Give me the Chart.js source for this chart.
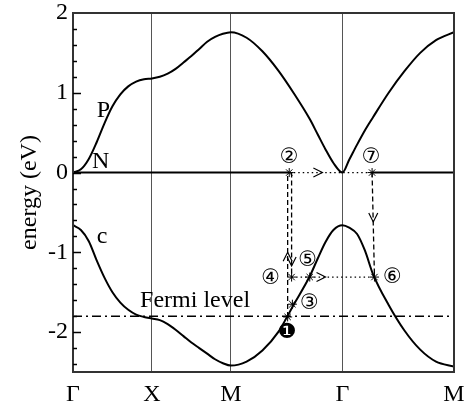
<!DOCTYPE html>
<html>
<head>
<meta charset="utf-8">
<script src="https://cdn.jsdelivr.net/npm/chart.js@4.4.1/dist/chart.umd.min.js"></script>
<style>
  html, body { margin: 0; padding: 0; background: #fff; }
  canvas { display: block; }
</style>
</head>
<body>
<canvas id="bands" width="473" height="409"></canvas>
<script>
// k path Γ-X-M-Γ-M, distance in units of Γ-X
const kTicks = [0, 1, 2, 3.414, 4.828];
const kLabels = ['Γ', 'X', 'M', 'Γ', 'M'];
const energyTicks = [-2, -1, 0, 1, 2];

// band energies (eV) read along kGrid
const kGrid = [0, 0.1, 0.2, 0.3, 0.4, 0.5, 0.6, 0.7, 0.8, 0.9, 1.0,
  1.1, 1.2, 1.3, 1.4, 1.5, 1.6, 1.7, 1.8, 1.9, 2.0,
  2.2, 2.4, 2.6, 2.8, 3.0, 3.1, 3.2, 3.3, 3.414,
  3.5, 3.6, 3.7, 3.8, 4.0, 4.2, 4.4, 4.6, 4.828];
const bandP = [0, 0.04, 0.17, 0.38, 0.62, 0.83, 0.98, 1.08, 1.14, 1.17, 1.18,
  1.2, 1.24, 1.3, 1.38, 1.46, 1.55, 1.64, 1.7, 1.74, 1.76,
  1.69, 1.52, 1.28, 0.99, 0.67, 0.48, 0.29, 0.12, 0,
  0.16, 0.35, 0.53, 0.69, 1.0, 1.27, 1.5, 1.66, 1.76];
const bandC = [-0.66, -0.72, -0.86, -1.1, -1.32, -1.5, -1.63, -1.72, -1.78, -1.81, -1.83,
  -1.85, -1.9, -1.97, -2.05, -2.13, -2.2, -2.27, -2.34, -2.39, -2.42,
  -2.37, -2.23, -2.0, -1.65, -1.3, -1.08, -0.87, -0.72, -0.66,
  -0.69, -0.77, -0.98, -1.27, -1.66, -1.98, -2.22, -2.37, -2.43];
const levelN = 0;
const fermiLevel = -1.8;

// numbered states of the scattering sequence
const stateNames = ['❶', '②', '③', '④', '⑤', '⑥', '⑦'];
const stateK = [2.72, 2.74, 2.78, 2.77, 3.0, 3.82, 3.79];
const stateE = [-1.81, 0, -1.65, -1.31, -1.31, -1.31, 0];

// transitions between states
const jumpFromK = [2.72, 2.77, 2.74, 2.77, 3.79];
const jumpFromE = [-1.81, 0, 0, -1.31, 0];
const jumpToK = [2.72, 2.77, 3.79, 3.82, 3.82];
const jumpToE = [0, -1.31, 0, -1.31, -1.31];
const jumpStyle = ['dash', 'dash', 'dot', 'dot', 'dash'];

// arrow heads on the transitions
const arrowK = [2.72, 2.77, 3.16, 3.2, 3.805];
const arrowE = [-1.0, -1.17, 0, -1.31, -0.62];
const arrowDir = ['up', 'down', 'right', 'right', 'down'];

// band names
const bandNames = ['P', 'N', 'c', 'Fermi level'];
const bandNameK = [0.30, 0.24, 0.30, 0.85];
const bandNameE = [0.70, 0.06, -0.88, -1.69];

const SERIF = "'Liberation Serif', 'Times New Roman', serif";
const CIRCLED = "'DejaVu Serif', 'DejaVu Sans', 'Noto Sans CJK JP', sans-serif";
// pixel offsets of the state numbers from their star
const stateLabelOffset = [[-1, 16], [0, -15], [17, -1], [-21, 1], [-2, -17], [18, 0], [-1, -15]];

Chart.defaults.font.family = SERIF;
Chart.defaults.color = '#000';

const pts = (ks, es) => ks.map((k, i) => ({ x: k, y: es[i] }));
const lastK = kTicks[kTicks.length - 1];

const solid = { borderColor: '#000', borderWidth: 2, pointRadius: 0, fill: false };

const datasets = [
  Object.assign({ data: pts(kGrid, bandP), cubicInterpolationMode: 'monotone' }, solid),
  Object.assign({ data: pts(kGrid, bandC), cubicInterpolationMode: 'monotone' }, solid),
  Object.assign({ data: pts([0, stateK[1]], [levelN, levelN]) }, solid),
  Object.assign({ data: pts([stateK[6], lastK], [levelN, levelN]) }, solid),
  { data: pts([0, lastK], [fermiLevel, fermiLevel]), borderColor: '#000', borderWidth: 1.5,
    borderDash: [9, 4, 2, 4], pointRadius: 0 }
];

jumpFromK.forEach((k, i) => {
  datasets.push({
    data: pts([k, jumpToK[i]], [jumpFromE[i], jumpToE[i]]),
    borderColor: '#000',
    borderWidth: 1.3,
    borderDash: jumpStyle[i] === 'dash' ? [5, 3] : [1.5, 3],
    pointRadius: 0
  });
});

datasets.push({
  data: pts(stateK, stateE),
  showLine: false,
  pointStyle: 'star',
  pointRadius: 4.5,
  borderColor: '#000',
  borderWidth: 1,
  backgroundColor: '#000'
});

const decor = {
  id: 'decor',
  afterDatasetsDraw(chart) {
    const { ctx, chartArea: a, scales: { x, y } } = chart;
    ctx.save();

    // frame
    ctx.strokeStyle = '#333';
    ctx.lineWidth = 2;
    ctx.strokeRect(a.left, a.top, a.right - a.left, a.bottom - a.top);

    // inward ticks on the energy axis
    ctx.strokeStyle = '#000';
    ctx.lineWidth = 1.5;
    for (let i = -12; i <= 9; i++) {
      const py = Math.round(y.getPixelForValue(i / 5)) + 0.5;
      const len = i % 5 === 0 ? 8 : 4;
      ctx.beginPath();
      ctx.moveTo(a.left, py);
      ctx.lineTo(a.left + len, py);
      ctx.stroke();
    }

    // arrow heads
    ctx.lineWidth = 1.2;
    arrowK.forEach((k, i) => {
      const px = x.getPixelForValue(k);
      const py = y.getPixelForValue(arrowE[i]);
      const ang = { up: -Math.PI / 2, down: Math.PI / 2, right: 0, left: Math.PI }[arrowDir[i]];
      ctx.save();
      ctx.translate(px, py);
      ctx.rotate(ang);
      ctx.beginPath();
      ctx.moveTo(-9, -4.5);
      ctx.lineTo(0, 0);
      ctx.lineTo(-9, 4.5);
      ctx.stroke();
      ctx.restore();
    });

    // band names
    ctx.fillStyle = '#000';
    ctx.font = '24px ' + SERIF;
    ctx.textAlign = 'left';
    ctx.textBaseline = 'alphabetic';
    bandNames.forEach((t, i) => {
      ctx.fillText(t, x.getPixelForValue(bandNameK[i]), y.getPixelForValue(bandNameE[i]));
    });

    // state numbers
    ctx.font = '21px ' + CIRCLED;
    ctx.textAlign = 'center';
    ctx.textBaseline = 'middle';
    stateNames.forEach((t, i) => {
      const [dx, dy] = stateLabelOffset[i];
      ctx.fillText(t, x.getPixelForValue(stateK[i]) + dx, y.getPixelForValue(stateE[i]) + dy);
    });

    // energy axis title
    ctx.font = '24px ' + SERIF;
    ctx.translate(30, (a.top + a.bottom) / 2);
    ctx.rotate(-Math.PI / 2);
    ctx.fillText('energy (eV)', 0, 0);

    ctx.restore();
  }
};

new Chart(document.getElementById('bands'), {
  type: 'scatter',
  data: { datasets: datasets.map(d => Object.assign({ showLine: true }, d)) },
  options: {
    responsive: false,
    animation: false,
    devicePixelRatio: 1,
    layout: { padding: { top: 13, right: 19, left: 0, bottom: 0 } },
    plugins: { legend: { display: false }, tooltip: { enabled: false } },
    scales: {
      x: {
        type: 'linear',
        min: 0,
        max: lastK,
        afterBuildTicks: s => { s.ticks = kTicks.map(v => ({ value: v })); },
        afterFit: s => { s.height = 37; s.paddingLeft = 0; s.paddingRight = 0; },
        ticks: {
          autoSkip: false,
          maxRotation: 0,
          padding: 8,
          color: '#000',
          font: { family: SERIF, size: 24 },
          callback: (v, i) => kLabels[i]
        },
        grid: { color: '#555', lineWidth: 1, drawTicks: false },
        border: { display: false }
      },
      y: {
        min: -2.5,
        max: 2,
        afterBuildTicks: s => { s.ticks = energyTicks.map(v => ({ value: v })); },
        afterFit: s => { s.width = 73; s.paddingTop = 0; s.paddingBottom = 0; },
        ticks: {
          padding: 5,
          color: '#000',
          font: { family: SERIF, size: 24 }
        },
        grid: { display: false, drawTicks: false },
        border: { display: false }
      }
    }
  },
  plugins: [decor]
});
</script>
</body>
</html>
